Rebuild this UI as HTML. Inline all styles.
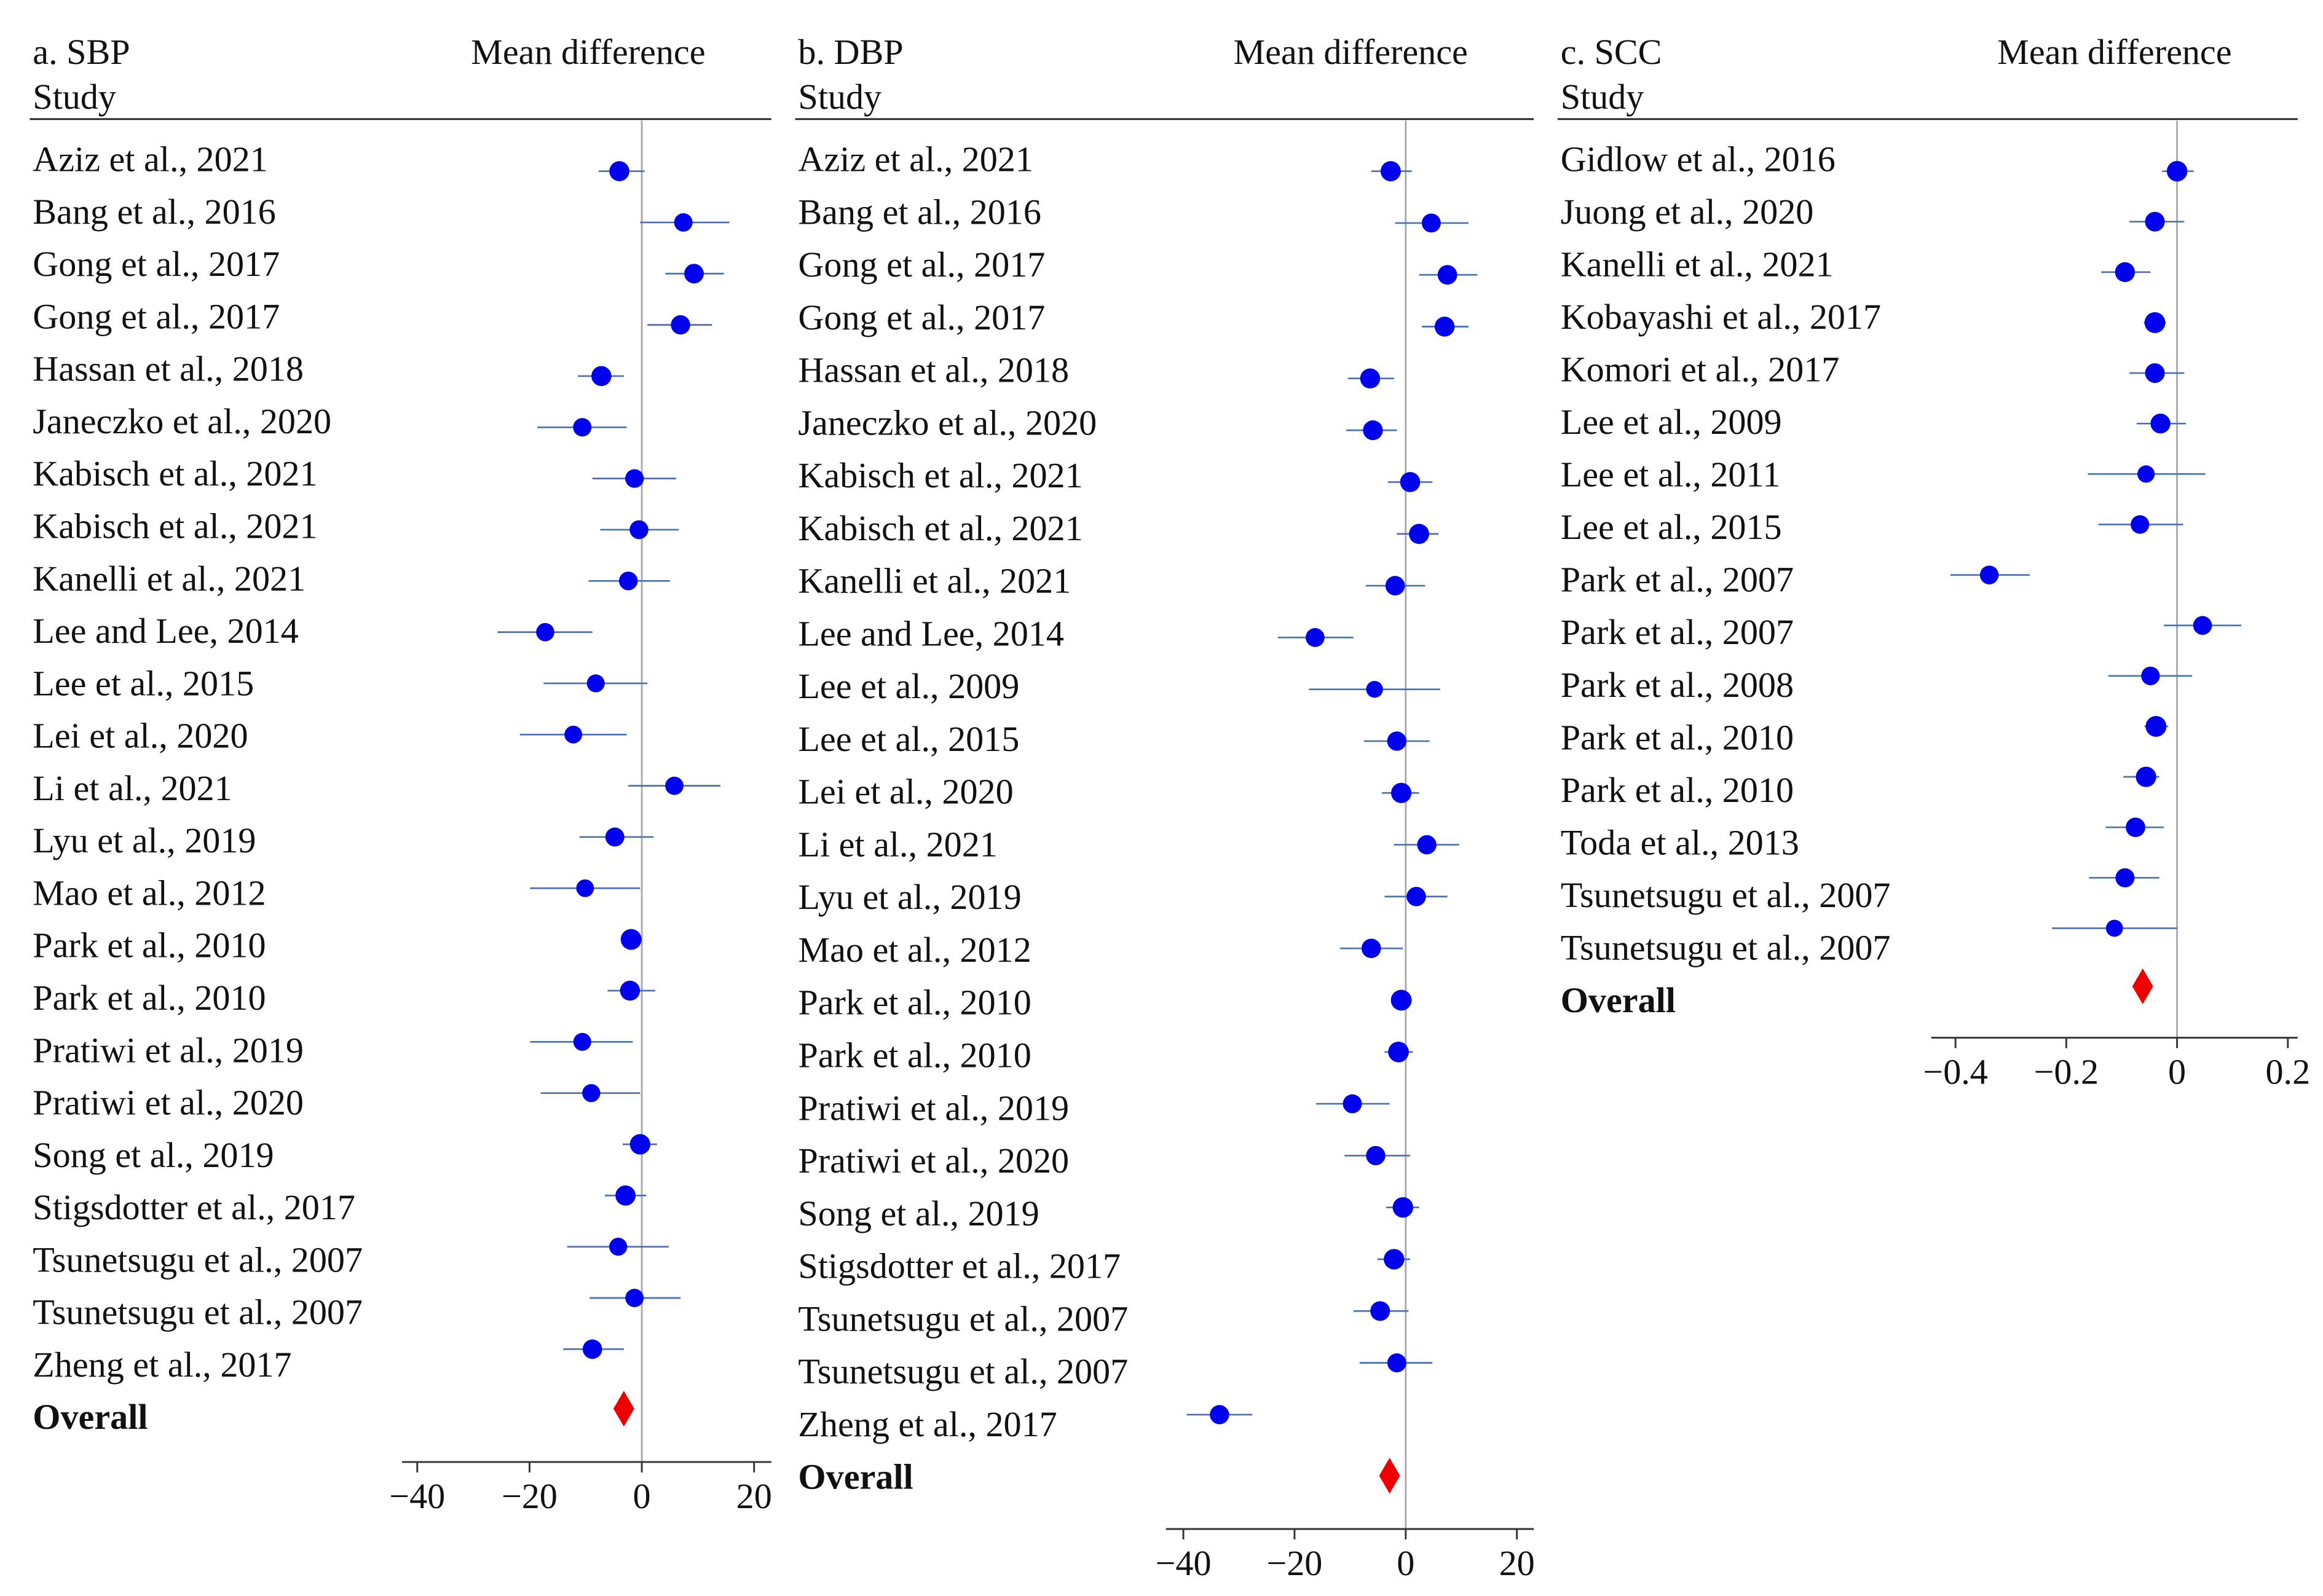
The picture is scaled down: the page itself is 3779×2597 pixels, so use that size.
<!DOCTYPE html>
<html><head><meta charset="utf-8"><style>
html,body{margin:0;padding:0;background:#fff;}
svg{display:block;}
text{font-family:"Liberation Serif",serif;fill:#111;}
</style></head>
<body>
<svg id="chart" xmlns="http://www.w3.org/2000/svg" width="3779" height="2597" viewBox="0 0 1560 1072" preserveAspectRatio="none"></svg>
<script>
// ---- Panel a: SBP ----
const studiesA = ["Aziz et al., 2021","Bang et al., 2016","Gong et al., 2017","Gong et al., 2017","Hassan et al., 2018","Janeczko et al., 2020","Kabisch et al., 2021","Kabisch et al., 2021","Kanelli et al., 2021","Lee and Lee, 2014","Lee et al., 2015","Lei et al., 2020","Li et al., 2021","Lyu et al., 2019","Mao et al., 2012","Park et al., 2010","Park et al., 2010","Pratiwi et al., 2019","Pratiwi et al., 2020","Song et al., 2019","Stigsdotter et al., 2017","Tsunetsugu et al., 2007","Tsunetsugu et al., 2007","Zheng et al., 2017"];
const meanA = [-4,7.4,9.3,6.9,-7.2,-10.6,-1.3,-0.5,-2.4,-17.2,-8.2,-12.2,5.8,-4.8,-10.1,-1.9,-2.1,-10.6,-9,-0.3,-2.9,-4.2,-1.3,-8.8];
const lowA = [-7.7,-0.3,4.2,1,-11.4,-18.6,-8.8,-7.4,-9.5,-25.7,-17.5,-21.7,-2.4,-11.1,-19.9,-3.4,-6.1,-19.9,-18,-3.4,-6.6,-13.3,-9.3,-14];
const highA = [0.5,15.6,14.6,12.5,-3.2,-2.7,6.1,6.6,5,-8.8,1,-2.7,14,2.1,-0.3,0,2.4,-1.6,-0.3,2.7,0.8,4.8,6.9,-3.2];
const overallA = -3.2;
const ticksA = [-40,-20,0,20];
const ticksALabels = ["\u221240","\u221220","0","20"];

// ---- Panel b: DBP ----
const studiesB = ["Aziz et al., 2021","Bang et al., 2016","Gong et al., 2017","Gong et al., 2017","Hassan et al., 2018","Janeczko et al., 2020","Kabisch et al., 2021","Kabisch et al., 2021","Kanelli et al., 2021","Lee and Lee, 2014","Lee et al., 2009","Lee et al., 2015","Lei et al., 2020","Li et al., 2021","Lyu et al., 2019","Mao et al., 2012","Park et al., 2010","Park et al., 2010","Pratiwi et al., 2019","Pratiwi et al., 2020","Song et al., 2019","Stigsdotter et al., 2017","Tsunetsugu et al., 2007","Tsunetsugu et al., 2007","Zheng et al., 2017"];
const meanB = [-2.7,4.6,7.5,7,-6.4,-5.9,0.8,2.4,-1.9,-16.3,-5.6,-1.6,-0.8,3.8,1.9,-6.2,-0.8,-1.3,-9.6,-5.4,-0.5,-2.1,-4.6,-1.6,-33.5];
const lowB = [-6.2,-1.9,2.4,2.9,-10.4,-10.7,-3.2,-1.6,-7.2,-23,-17.4,-7.5,-4.3,-2.1,-3.8,-11.8,-2.4,-3.8,-16.1,-11,-3.5,-5.1,-9.4,-8.3,-39.4];
const highB = [1.1,11.3,12.9,11.3,-2.1,-1.6,4.8,5.9,3.5,-9.4,6.2,4.3,2.4,9.6,7.5,-0.5,1.1,1.3,-2.9,0.8,2.4,0.8,0.5,4.8,-27.6];
const overallB = -2.9;
const ticksB = [-40,-20,0,20];
const ticksBLabels = ["\u221240","\u221220","0","20"];

// ---- Panel c: SCC ----
const studiesC = ["Gidlow et al., 2016","Juong et al., 2020","Kanelli et al., 2021","Kobayashi et al., 2017","Komori et al., 2017","Lee et al., 2009","Lee et al., 2011","Lee et al., 2015","Park et al., 2007","Park et al., 2007","Park et al., 2008","Park et al., 2010","Park et al., 2010","Toda et al., 2013","Tsunetsugu et al., 2007","Tsunetsugu et al., 2007"];
const meanC = [0,-0.04,-0.094,-0.04,-0.04,-0.03,-0.056,-0.067,-0.339,0.046,-0.048,-0.038,-0.056,-0.075,-0.094,-0.113];
const lowC = [-0.027,-0.086,-0.137,-0.06,-0.086,-0.073,-0.161,-0.142,-0.409,-0.024,-0.124,-0.059,-0.097,-0.129,-0.159,-0.226];
const highC = [0.03,0.013,-0.048,-0.02,0.013,0.016,0.051,0.011,-0.266,0.116,0.027,-0.016,-0.032,-0.024,-0.032,0];
const overallC = -0.062;
const ticksC = [-0.4,-0.2,0,0.2];
const ticksCLabels = ["\u22120.4","\u22120.2","0","0.2"];

const NS = "http://www.w3.org/2000/svg";
const svg = document.getElementById("chart");
function mk(tag, attrs, parent){
  const e = document.createElementNS(NS, tag);
  for (const k in attrs) e.setAttribute(k, attrs[k]);
  (parent||svg).appendChild(e);
  return e;
}

function panel(cfg){
  const g = mk("g", {});
  
  
  const xs = v => cfg.x0 + (v - 0) * cfg.scale;
  let t = mk("text", {x: cfg.left, y: 43, "font-size": 24}, g);
  t.textContent = cfg.title;
  
  
  t = mk("text", {x: cfg.left, y: 73, "font-size": 24}, g);
  t.textContent = "Study";
  
  
  t = mk("text", {x: cfg.mdX, y: 43, "font-size": 24, "text-anchor": "middle"}, g);
  t.textContent = "Mean difference";
  
  
  let l = mk("line", {x1: cfg.left - 2, x2: cfg.right, y1: 80, y2: 80, stroke: "#222", "stroke-width": 1.2}, g);
  
  
  l = mk("line", {x1: xs(0), x2: xs(0), y1: 81, y2: cfg.axisY, stroke: "#aaa", "stroke-width": 1.2}, g);
  
  
  l = mk("line", {x1: cfg.axisL, x2: cfg.right, y1: cfg.axisY, y2: cfg.axisY, stroke: "#333", "stroke-width": 1.2}, g);
  
  
  cfg.ticks.forEach((v, i) => {
    const tk = mk("line", {x1: xs(v), x2: xs(v), y1: cfg.axisY, y2: cfg.axisY + 7, stroke: "#333", "stroke-width": 1.2}, g);
    
    
    const lbl = mk("text", {x: xs(v), y: cfg.axisY + 31, "font-size": 24, "text-anchor": "middle"}, g);
    lbl.textContent = cfg.tickLabels[i];
    
    
  });
  cfg.studies.forEach((s, i) => {
    const ty = 107 + i * cfg.textStep;
    const lbl = mk("text", {x: cfg.left, y: ty + 8, "font-size": 24}, g);
    lbl.textContent = s;
    
    
    const dy = 115 + i * cfg.dotStep;
    const ci = mk("line", {x1: xs(cfg.low[i]), x2: xs(cfg.high[i]), y1: dy, y2: dy, stroke: "#4a6fb5", "stroke-width": 1.1}, g);
    
    
    const w = cfg.high[i] - cfg.low[i];
    const rel = w / cfg.refW;
    const r = Math.max(5, Math.min(7, 7.3 - rel * 1.4));
    const dot = mk("circle", {cx: xs(cfg.mean[i]), cy: dy, r: r, fill: "#0000ee"}, g);
    
    
  });
  const n = cfg.studies.length;
  const oy = 107 + n * cfg.textStep;
  const ol = mk("text", {x: cfg.left, y: oy + 8, "font-size": 24, "font-weight": "bold"}, g);
  ol.textContent = "Overall";
  
  
  const dyo = 115 + (n - 1) * cfg.dotStep + cfg.diamondGap;
  const cx = xs(cfg.overall);
  const d = mk("polygon", {points: `${cx},${dyo-12} ${cx+7},${dyo} ${cx},${dyo+12} ${cx-7},${dyo}`, fill: "#ee0000"}, g);
  
  
}

panel({name:"panel-a-sbp", title:"a. SBP", left:22, right:518, mdX:395, x0:431, scale:3.77, axisL:270, axisY:982,
  ticks:ticksA, tickLabels:ticksALabels, studies:studiesA, mean:meanA, low:lowA, high:highA, overall:overallA,
  textStep:35.2, dotStep:34.4, diamondGap:40, refW:20});
panel({name:"panel-b-dbp", title:"b. DBP", left:536, right:1030, mdX:907, x0:944, scale:3.733, axisL:783, axisY:1027,
  ticks:ticksB, tickLabels:ticksBLabels, studies:studiesB, mean:meanB, low:lowB, high:highB, overall:overallB,
  textStep:35.4, dotStep:34.8, diamondGap:41, refW:20});
panel({name:"panel-c-scc", title:"c. SCC", left:1048, right:1543, mdX:1420, x0:1462, scale:372, axisL:1297, axisY:697,
  ticks:ticksC, tickLabels:ticksCLabels, studies:studiesC, mean:meanC, low:lowC, high:highC, overall:overallC,
  textStep:35.3, dotStep:33.9, diamondGap:39, refW:0.2});
</script>
</body></html>
